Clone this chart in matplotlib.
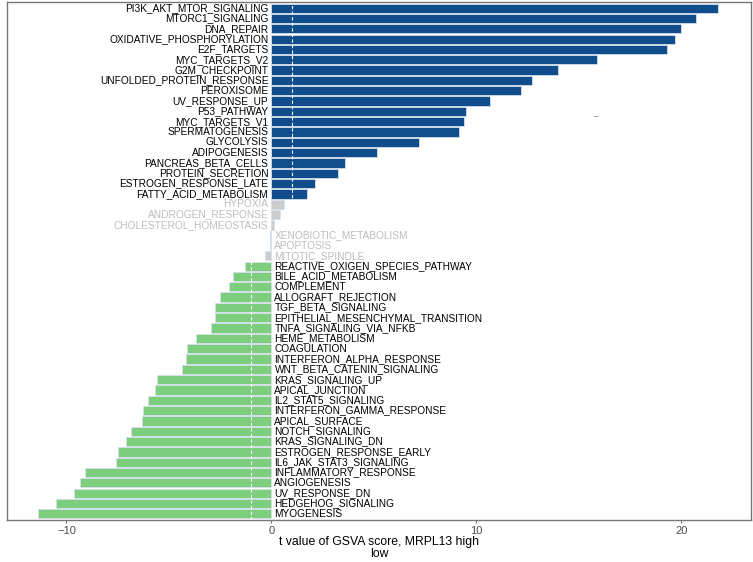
"""
GSVA hallmark t-value bar chart, MRPL13 high vs low.
"""
import matplotlib
matplotlib.use('Agg')
import matplotlib.pyplot as plt

plt.rcParams['font.family'] = ['Liberation Sans', 'DejaVu Sans']

#pathways from top to bottom with their t values
pathways = [
    "PI3K_AKT_MTOR_SIGNALING", "MTORC1_SIGNALING", "DNA_REPAIR",
    "OXIDATIVE_PHOSPHORYLATION", "E2F_TARGETS", "MYC_TARGETS_V2",
    "G2M_CHECKPOINT", "UNFOLDED_PROTEIN_RESPONSE", "PEROXISOME",
    "UV_RESPONSE_UP", "P53_PATHWAY", "MYC_TARGETS_V1", "SPERMATOGENESIS",
    "GLYCOLYSIS", "ADIPOGENESIS", "PANCREAS_BETA_CELLS", "PROTEIN_SECRETION",
    "ESTROGEN_RESPONSE_LATE", "FATTY_ACID_METABOLISM", "HYPOXIA",
    "ANDROGEN_RESPONSE", "CHOLESTEROL_HOMEOSTASIS", "XENOBIOTIC_METABOLISM",
    "APOPTOSIS", "MITOTIC_SPINDLE", "REACTIVE_OXIGEN_SPECIES_PATHWAY",
    "BILE_ACID_METABOLISM", "COMPLEMENT", "ALLOGRAFT_REJECTION",
    "TGF_BETA_SIGNALING", "EPITHELIAL_MESENCHYMAL_TRANSITION",
    "TNFA_SIGNALING_VIA_NFKB", "HEME_METABOLISM", "COAGULATION",
    "INTERFERON_ALPHA_RESPONSE", "WNT_BETA_CATENIN_SIGNALING",
    "KRAS_SIGNALING_UP", "APICAL_JUNCTION", "IL2_STAT5_SIGNALING",
    "INTERFERON_GAMMA_RESPONSE", "APICAL_SURFACE", "NOTCH_SIGNALING",
    "KRAS_SIGNALING_DN", "ESTROGEN_RESPONSE_EARLY", "IL6_JAK_STAT3_SIGNALING",
    "INFLAMMATORY_RESPONSE", "ANGIOGENESIS", "UV_RESPONSE_DN",
    "HEDGEHOG_SIGNALING", "MYOGENESIS",
]
t_values = [
    21.8, 20.7, 20.0, 19.7, 19.3, 15.9, 14.0, 12.7, 12.2, 10.65,
    9.5, 9.4, 9.17, 7.2, 5.16, 3.58, 3.27, 2.15, 1.74, 0.6,
    0.42, 0.13, -0.05, -0.05, -0.33, -1.28, -1.85, -2.06, -2.51, -2.74,
    -2.76, -2.93, -3.68, -4.13, -4.17, -4.38, -5.59, -5.66, -6.03, -6.27,
    -6.32, -6.84, -7.07, -7.49, -7.58, -9.09, -9.33, -9.64, -10.53, -11.41,
]
cutoff = 1

#colours: up, down, not significant
col_up = '#0f4d8c'
col_down = '#7ccd7c'
col_ns = '#cccccc'

fig = plt.figure(figsize=(7.53, 5.62), dpi=100)
ax = fig.add_axes([7 / 753, 42 / 562, 744 / 753, 518 / 562])

ypos = list(range(len(pathways)))[::-1]
colors = []
for t in t_values:
    if t > cutoff:
        colors.append(col_up)
    elif t < -cutoff:
        colors.append(col_down)
    else:
        colors.append(col_ns)

ax.barh(ypos, t_values, height=0.9, color=colors, edgecolor='#d6e0ea',
        linewidth=0.6)

#labels on the opposite side of zero
for y, name, t, c in zip(ypos, pathways, t_values, colors):
    tc = '#bdbdbd' if c == col_ns else 'black'
    if t > 0:
        ax.text(-0.15, y, name, ha='right', va='center', fontsize=7.3, color=tc)
    else:
        ax.text(0.15, y, name, ha='left', va='center', fontsize=7.3, color=tc)

for x in (-cutoff, cutoff):
    ax.axvline(x, color='white', linestyle=(0, (3, 2)), linewidth=0.8)

ax.text(15.85, ypos[10] - 0.5, '–', ha='center', va='center', fontsize=6,
        color='#555555')

ax.set_xlim(-12.9, 23.4)
ax.set_ylim(-0.6, len(pathways) - 0.4)
ax.set_xticks([-10, 0, 10, 20])
ax.set_xticklabels(['\u221210', '0', '10', '20'])
ax.set_yticks([])
ax.tick_params(axis='x', colors='#4d4d4d', labelsize=8, length=2.5, width=0.6,
               labelcolor='#4d4d4d', pad=2)
for s in ax.spines.values():
    s.set_color('#777777')
    s.set_linewidth(1.0)
ax.set_xlabel('t value of GSVA score, MRPL13 high\nlow', fontsize=8.8,
              labelpad=0, linespacing=0.92)

plt.savefig('out.png', dpi=100)
plt.close()
